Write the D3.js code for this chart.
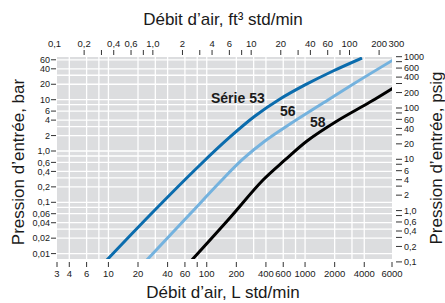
<!DOCTYPE html>
<html>
<head>
<meta charset="utf-8">
<script src="https://cdn.jsdelivr.net/npm/d3@7"></script>
<style>
body { margin:0; background:#fff; }
text { font-family:"Liberation Sans", Arial, Helvetica, sans-serif; fill:#1a1a1a; }
</style>
</head>
<body>
<svg id="chart" width="445" height="303"></svg>
<script>
// flow in L std/min, inlet pressure in bar
var serie53_flow = [9.45, 26.5, 85.4, 172.5, 310, 556, 999, 1925, 3796];
var serie53_bar  = [0.0072, 0.0566, 0.534, 1.88, 4.81, 10.3, 19.4, 36.3, 65];
var serie56_flow = [24.1, 67.6, 136.5, 234, 391, 703, 1419, 3222, 7846];
var serie56_bar  = [0.0072, 0.0592, 0.249, 0.70, 1.57, 3.36, 7.89, 21.2, 59.4];
var serie58_flow = [69.2, 164.6, 373.6, 625, 1047, 2114, 4577, 7846];
var serie58_bar  = [0.0072, 0.0452, 0.272, 0.668, 1.57, 3.85, 9.0, 16.9];

var bar_ticks  = [60, 40, 20, 10, 6, 4, 2, 1, 0.6, 0.4, 0.2, 0.1, 0.06, 0.04, 0.02, 0.01];
var bar_labels = ["60","40","20","10","6","4","2","1,0","0,6","0,4","0,2","0,1","0,06","0,04","0,02","0,01"];
var psig_ticks  = [1000, 600, 400, 200, 100, 60, 40, 20, 10, 6, 4, 2, 1, 0.6, 0.4, 0.2, 0.1];
var psig_labels = ["1000","600","400","200","100","60","40","20","10","6","4","2","1,0","0,6","0,4","0,2","0,1"];
var psig_minor  = [800, 300, 80, 30, 8, 3, 0.8, 0.3];
var litre_ticks  = [3, 4, 6, 10, 20, 40, 60, 80, 100, 200, 400, 600, 1000, 2000, 4000, 6000];
var litre_labels = ["3","4","6","10","20","40","60","","100","200","400","600","1000","2000","4000","6000"];
var cfm_ticks  = [0.2, 0.3, 0.4, 0.6, 0.8, 1, 2, 3, 4, 6, 8, 10, 20, 30, 40, 60, 80, 100, 200];
var cfm_labels_v = [0.1, 0.2, 0.4, 0.6, 1, 2, 4, 6, 10, 20, 40, 60, 100, 200, 300];
var cfm_labels   = ["0,1","0,2","0,4","0,6","1,0","2","4","6","10","20","40","60","100","200","300"];
var grid_flow = [4, 6, 8, 10, 20, 30, 40, 60, 80, 100, 200, 300, 400, 600, 800, 1000, 2000, 3000, 4000];
var grid_bar  = [0.01, 0.02, 0.03, 0.04, 0.06, 0.08, 0.1, 0.2, 0.3, 0.4, 0.6, 0.8, 1, 2, 3, 4, 6, 8, 10, 20, 30, 40, 60];

var L = 57, R = 392, T = 57, B = 259;
var svg = d3.select("#chart");

var x = d3.scaleLog().domain([3, 7660]).range([L, R]);
var xTop = x.copy().domain(x.domain().map(function(d) { return d / 28.3168; }));
// the printed L axis squeezes its last label onto the edge
var xBottom = d3.scaleLog().domain([3, 4000, 6000]).range([L, x(4000), R]);
var y = d3.scaleLog().domain([0.00785, 68]).range([B, T]);
var yPsi = y.copy().domain(y.domain().map(function(d) { return d * 14.5038; }));

svg.append("rect").attr("x", L).attr("y", T).attr("width", R - L).attr("height", B - T).attr("fill", "#dcdddf");

var grid = svg.append("g").attr("stroke", "#fff").attr("stroke-width", 1.3);
grid.selectAll("line.v").data(grid_flow).enter().append("line")
  .attr("x1", function(d) { return x(d); }).attr("x2", function(d) { return x(d); })
  .attr("y1", T).attr("y2", B);
grid.selectAll("line.h").data(grid_bar).enter().append("line")
  .attr("y1", function(d) { return y(d); }).attr("y2", function(d) { return y(d); })
  .attr("x1", L).attr("x2", R);

svg.append("clipPath").attr("id", "plot").append("rect")
  .attr("x", L).attr("y", T).attr("width", R - L).attr("height", B - T);

var line = d3.line()
  .x(function(d) { return x(d[0]); })
  .y(function(d) { return y(d[1]); })
  .curve(d3.curveCatmullRom.alpha(0.5));

[[serie58_flow, serie58_bar, "#000"],
 [serie56_flow, serie56_bar, "#74b2de"],
 [serie53_flow, serie53_bar, "#0b6cad"]].forEach(function(s) {
  svg.append("path")
    .datum(d3.zip(s[0], s[1]))
    .attr("clip-path", "url(#plot)")
    .attr("fill", "none")
    .attr("stroke", s[2])
    .attr("stroke-width", 3)
    .attr("d", line);
});

var tick = svg.append("g").attr("stroke", "#333").attr("stroke-width", 1);
var lab = svg.append("g").attr("font-size", "9px");

// left, bar
tick.selectAll("line.l").data(bar_ticks).enter().append("line")
  .attr("x1", L - 6).attr("x2", L - 1)
  .attr("y1", function(d) { return y(d); }).attr("y2", function(d) { return y(d); });
lab.selectAll("text.l").data(bar_ticks).enter().append("text")
  .attr("x", L - 7).attr("y", function(d) { return y(d); }).attr("dy", "0.35em")
  .attr("text-anchor", "end").text(function(d, i) { return bar_labels[i]; });

// right, psig
tick.selectAll("line.r").data(psig_ticks.concat(psig_minor)).enter().append("line")
  .attr("x1", R + 4).attr("x2", R + 10)
  .attr("y1", function(d) { return yPsi(d); }).attr("y2", function(d) { return yPsi(d); });
lab.selectAll("text.r").data(psig_ticks).enter().append("text")
  .attr("x", R + 12).attr("y", function(d) { return yPsi(d); }).attr("dy", "0.35em")
  .text(function(d, i) { return psig_labels[i]; });

// bottom, L std/min
tick.selectAll("line.b").data(litre_ticks).enter().append("line")
  .attr("x1", function(d) { return xBottom(d); }).attr("x2", function(d) { return xBottom(d); })
  .attr("y1", B + 3).attr("y2", B + 8);
lab.selectAll("text.b").data(litre_ticks).enter().append("text")
  .attr("x", function(d) { return xBottom(d); }).attr("y", B + 18)
  .attr("font-size", "9.5px")
  .attr("text-anchor", "middle").text(function(d, i) { return litre_labels[i]; });

// top, ft3 std/min
tick.selectAll("line.t").data(cfm_ticks).enter().append("line")
  .attr("x1", function(d) { return xTop(d); }).attr("x2", function(d) { return xTop(d); })
  .attr("y1", T - 7).attr("y2", T - 2);
lab.selectAll("text.t").data(cfm_labels_v).enter().append("text")
  .attr("x", function(d) { return xTop(d); }).attr("y", T - 10)
  .attr("font-size", "9.5px")
  .attr("text-anchor", "middle").text(function(d, i) { return cfm_labels[i]; });

var titles = svg.append("g").attr("font-size", "17px").attr("text-anchor", "middle");
titles.append("text").attr("x", 223).attr("y", 25).text("Débit d’air, ft³ std/min");
titles.append("text").attr("x", 223).attr("y", 298).text("Débit d’air, L std/min");
titles.append("text").attr("transform", "translate(24,162) rotate(-90)").text("Pression d’entrée, bar");
titles.append("text").attr("transform", "translate(442,158) rotate(-90)").text("Pression d’entrée, psig");

var names = svg.append("g").attr("font-size", "14px").attr("font-weight", "bold");
names.append("text").attr("x", 211).attr("y", 103).text("Série 53");
names.append("text").attr("x", 280).attr("y", 116).text("56");
names.append("text").attr("x", 310).attr("y", 127).text("58");
</script>
</body>
</html>
